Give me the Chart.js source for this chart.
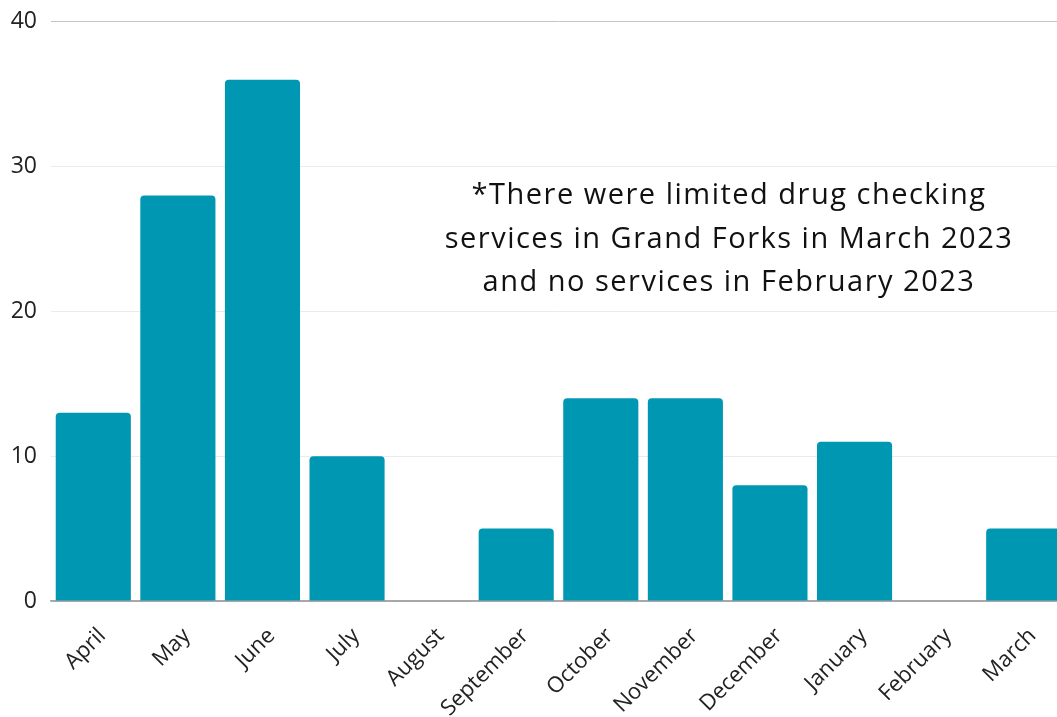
<!DOCTYPE html>
<html>
<head>
<meta charset="utf-8">
<script src="https://cdn.jsdelivr.net/npm/chart.js@4.4.1/dist/chart.umd.min.js"></script>
<style>
  html, body { margin: 0; padding: 0; background: #fff; overflow: hidden; }
  #wrap { position: relative; width: 1066px; height: 717px; }
</style>
</head>
<body>
<div id="wrap"><canvas id="chart"></canvas></div>
<script>
// monthly counts, April 2022 - March 2023
const months = ['April', 'May', 'June', 'July', 'August', 'September', 'October', 'November', 'December', 'January', 'February', 'March'];
const counts = [13, 28, 36, 10, 0, 5, 14, 14, 8, 11, 0, 5];
const yTicks = [0, 10, 20, 30, 40];
const noteLines = [
    '*There were limited drug checking',
    'services in Grand Forks in March 2023',
    'and no services in February 2023'
];

const TEAL = '#0097b2';

// note drawn inside the plot, centred over the right half
const notePlugin = {
    id: 'note',
    afterDatasetsDraw(chart) {
        const { ctx } = chart;
        ctx.save();
        ctx.font = '29px "Open Sans"';
        ctx.letterSpacing = '1.5px';
        ctx.fillStyle = '#111';
        ctx.textAlign = 'center';
        ctx.textBaseline = 'middle';
        noteLines.forEach((line, i) => {
            ctx.fillText(line, 729, 196 + i * 43.5);
        });
        ctx.restore();
    }
};

new Chart(document.getElementById('chart'), {
    type: 'bar',
    data: {
        labels: months,
        datasets: [{
            data: counts,
            backgroundColor: TEAL,
            borderRadius: 4,
            borderSkipped: 'start',
            categoryPercentage: 1,
            barPercentage: 0.888
        }]
    },
    options: {
        responsive: true,
        maintainAspectRatio: false,
        animation: false,
        layout: { padding: 0 },
        plugins: { legend: { display: false }, tooltip: { enabled: false } },
        scales: {
            x: {
                grid: { display: false },
                border: { display: true, color: '#a8a8a8', width: 1.5 },
                ticks: {
                    color: '#222',
                    font: { family: '"Open Sans"', size: 22 },
                    minRotation: 45,
                    maxRotation: 45,
                    padding: 14,
                    labelOffset: 9
                },
                afterFit(scale) { scale.height = 116; }
            },
            y: {
                min: 0,
                max: 40,
                afterBuildTicks(scale) { scale.ticks = yTicks.map(v => ({ value: v })); },
                border: { display: false },
                grid: {
                    drawTicks: true,
                    tickLength: 6,
                    tickColor: 'rgba(0,0,0,0)',
                    color: c => c.tick.value === 40 ? '#c4c4c4' : (c.tick.value === 0 ? '#a8a8a8' : '#ebebeb'),
                    lineWidth: 1
                },
                ticks: {
                    color: '#222',
                    font: { family: '"Open Sans"', size: 23 },
                    padding: 8
                },
                afterFit(scale) { scale.width = 51; }
            }
        }
    },
    plugins: [notePlugin]
});
</script>
</body>
</html>
